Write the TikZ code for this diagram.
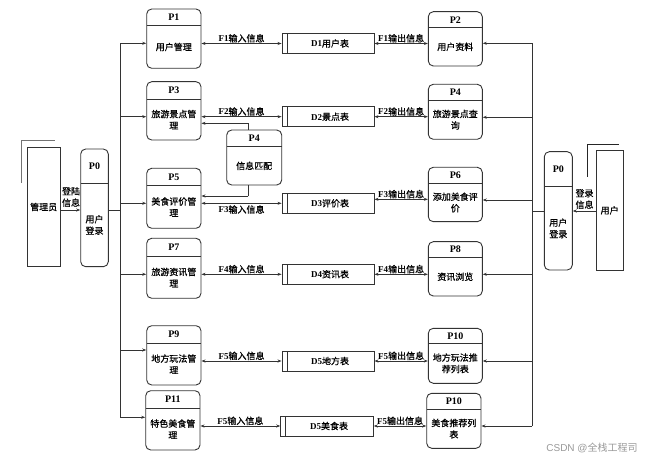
\documentclass[tikz,border=0pt]{standalone}
\usepackage{fontspec}
\setmainfont{Liberation Serif}
\newfontfamily\cjk[FakeBold=0.7]{Noto Sans CJK SC}
\newfontfamily\wmfont{Liberation Sans}
\newfontfamily\wmcjk{Noto Sans CJK SC}
\usetikzlibrary{arrows.meta,fit}
\newcommand\lt[1]{{\rmfamily\bfseries #1}}
\tikzset{
  x=1bp, y=-1bp,
  edge/.style={draw=black!80, line width=0.8bp},
  tipA/.tip={Stealth[length=4bp,width=3bp]},
  flow/.style={edge, -tipA},
  bi/.style={edge, tipA-tipA},
  procbox/.style={draw=black!80, line width=0.9bp, rounded corners=5bp, inner sep=0pt},
  storebox/.style={draw=black!80, line width=0.9bp, inner sep=0pt},
  entbox/.style={draw=black!80, line width=0.9bp, inner sep=0pt},
  txt/.style={font=\cjk\fontsize{9bp}{11.5bp}\selectfont, align=center, inner sep=0pt},
  hdr/.style={font=\rmfamily\bfseries\fontsize{10bp}{12bp}\selectfont, inner sep=0pt},
  lbl/.style={font=\cjk\fontsize{9bp}{10bp}\selectfont, inner sep=0.6bp},
}
% #1 name, #2 x1, #3 y1, #4 x2, #5 y2, #6 divider y, #7 header, #8 body
\newcommand\proc[8]{%
  \coordinate (#1-tl) at (#2,#3);
  \coordinate (#1-br) at (#4,#5);
  \node[procbox, fit=(#1-tl)(#1-br)] (#1) {};
  \draw[draw=black!80, line width=0.9bp] (#2,#6) -- (#4,#6);
  \node[hdr] (#1-h) at ({(#2+#4)/2},{(#3+#6)/2}) {#7};
  \node[txt] (#1-b) at ({(#2+#4)/2},{(#6+#5)/2}) {#8};
}
% #1 name, #2 x1, #3 y1, #4 x2, #5 y2, #6 text
\newcommand\store[6]{%
  \coordinate (#1-tl) at (#2,#3);
  \coordinate (#1-br) at (#4,#5);
  \node[storebox, fit=(#1-tl)(#1-br)] (#1) {};
  \draw[draw=black!80, line width=0.9bp] ({#2+5},#3) -- ({#2+5},#5);
  \node[txt] (#1-t) at ({(#2+#4)/2+2},{(#3+#5)/2}) {#6};
}
\begin{document}
\begin{tikzpicture}
\useasboundingbox (0,0) rectangle (647,461);
\fill[white] (0,0) rectangle (647,461);

% entities
\coordinate (adm-tl) at (27.3,147.3); \coordinate (adm-br) at (60,266.7);
\node[entbox, fit=(adm-tl)(adm-br)] (adm) {};
\node[txt] (adm-t) at (adm) {管理员};
\draw[draw=black!55, line width=1.3bp] (21.7,183) -- (21.7,140.7) -- (55,140.7);

\coordinate (usr-tl) at (596,150.7); \coordinate (usr-br) at (623.3,270);
\node[entbox, fit=(usr-tl)(usr-br)] (usr) {};
\node[txt] (usr-t) at (usr) {用户};
\draw[draw=black!85, line width=0.9bp] (587.3,176.7) -- (587.3,144.3) -- (619,144.3);

% login processes
\proc{p0l}{80.7}{149}{108.3}{266.7}{183.3}{P0}{用户\\登录}
\proc{p0r}{544.3}{151.7}{572.3}{270}{186.7}{P0}{用户\\登录}

% left processes
\proc{p1}{146.7}{9}{201}{68.3}{25.7}{P1}{用户管理}
\proc{p3}{146.7}{81.7}{201}{140}{99.3}{P3}{旅游景点管\\理}
\proc{p5}{146.7}{168.3}{201}{228.3}{185.7}{P5}{美食评价管\\理}
\proc{p7}{146.7}{238.3}{201}{298.3}{256.7}{P7}{旅游资讯管\\理}
\proc{p9}{146.7}{325.7}{201}{385}{343.3}{P9}{地方玩法管\\理}
\proc{p11}{145.7}{390.7}{200}{450}{408.3}{P11}{特色美食管\\理}

% right processes
\proc{p2}{428.3}{11.7}{482.3}{66}{27.7}{P2}{用户资料}
\proc{p4}{428.3}{84.3}{482.3}{139.3}{100}{P4}{旅游景点查\\询}
\proc{p6}{428.3}{167.3}{482.3}{221.7}{183.3}{P6}{添加美食评\\价}
\proc{p8}{428.3}{241.7}{482.3}{296}{257.7}{P8}{资讯浏览}
\proc{p10}{428.3}{328.3}{482.3}{383.3}{343.3}{P10}{地方玩法推\\荐列表}
\proc{p10b}{426.7}{393.3}{481}{448.3}{409}{P10}{美食推荐列\\表}

% matching process
\proc{pm}{226.7}{130}{281.7}{185}{146.7}{P4}{信息匹配}

% data stores
\store{d1}{282}{33.7}{374}{53.3}{\lt{D1}用户表}
\store{d2}{282}{106.7}{374}{126.7}{\lt{D2}景点表}
\store{d3}{282}{193.3}{374}{213.3}{\lt{D3}评价表}
\store{d4}{282}{264.3}{374}{284.3}{\lt{D4}资讯表}
\store{d5}{282}{351}{374}{371}{\lt{D5}地方表}
\store{d6}{280.7}{416}{373.3}{436}{\lt{D5}美食表}

% left trunk
\coordinate (L1) at (120,43.3);
\coordinate (L2) at (120,116.7);
\coordinate (L3) at (120,203.3);
\coordinate (L4) at (120,274.3);
\coordinate (L5) at (120,350);
\coordinate (L6) at (120,417.3);
\coordinate (Lm) at (120,210);
\draw[edge] (L1) -- (L6);
\draw[flow] (L1) -- (p1.west |- L1);
\draw[flow] (L2) -- (p3.west |- L2);
\draw[flow] (L3) -- (p5.west |- L3);
\draw[flow] (L4) -- (p7.west |- L4);
\draw[flow] (L5) -- (p9.west |- L5);
\draw[flow] (L6) -- (p11.west |- L6);
\draw[edge] (p0l.east |- Lm) -- (Lm);
\draw[flow] (adm.east |- Lm) -- (p0l.west |- Lm);
\node[txt] (admlbl) at (71,197) {登陆\\信息};

% right trunk
\coordinate (R1) at (532,43.3);
\coordinate (R2) at (532,117.3);
\coordinate (R3) at (532,200);
\coordinate (R4) at (532,274.3);
\coordinate (R5) at (532,361);
\coordinate (R6) at (532,426);
\coordinate (Rm) at (532,211);
\draw[edge] (R1) -- (R6);
\draw[flow] (R1) -- (p2.east |- R1);
\draw[flow] (R2) -- (p4.east |- R2);
\draw[flow] (R3) -- (p6.east |- R3);
\draw[flow] (R4) -- (p8.east |- R4);
\draw[flow] (R5) -- (p10.east |- R5);
\draw[flow] (R6) -- (p10b.east |- R6);
\draw[edge] (p0r.west |- Rm) -- (Rm);
\draw[flow] (usr.west |- Rm) -- (p0r.east |- Rm);
\node[txt] (usrlbl) at (584.5,199) {登录\\信息};

% data flows
\coordinate (Y3) at (0,199.3);
\draw[bi] (p1.east |- d1.west) -- (d1.west) node[midway, above, lbl] {\lt{F1}输入信息};
\draw[bi] (d1.east) -- (p2.west |- d1.east) node[midway, above, lbl] {\lt{F1}输出信息};
\draw[bi] (p3.east |- d2.west) -- (d2.west) node[midway, above, lbl] {\lt{F2}输入信息};
\draw[bi] (d2.east) -- (p4.west |- d2.east) node[midway, above, lbl] {\lt{F2}输出信息};
\draw[bi] (p5.east |- d3.west) -- (d3.west) node[midway, below, lbl, yshift=-1bp] {\lt{F3}输入信息};
\draw[bi] (d3.east |- Y3) -- (p6.west |- Y3) node[midway, above, lbl] {\lt{F3}输出信息};
\draw[bi] (p7.east |- d4.west) -- (d4.west) node[midway, above, lbl] {\lt{F4}输入信息};
\draw[bi] (d4.east) -- (p8.west |- d4.east) node[midway, above, lbl] {\lt{F4}输出信息};
\draw[bi] (p9.east |- d5.west) -- (d5.west) node[midway, above, lbl] {\lt{F5}输入信息};
\draw[bi] (d5.east) -- (p10.west |- d5.east) node[midway, above, lbl] {\lt{F5}输出信息};
\draw[bi] (p11.east |- d6.west) -- (d6.west) node[midway, above, lbl] {\lt{F5}输入信息};
\draw[bi] (d6.east) -- (p10b.west |- d6.east) node[midway, above, lbl] {\lt{F5}输出信息};

% matching process links
\coordinate (K3) at (248.3,123.3);
\coordinate (K5) at (248.3,196);
\draw[edge] (pm.north -| K3) -- (K3);
\draw[flow] (K3) -- (p3.east |- K3);
\draw[edge] (pm.south -| K5) -- (K5);
\draw[flow] (K5) -- (p5.east |- K5);

% watermark
\node[font=\wmfont\fontsize{10bp}{12bp}\selectfont, text=black!40, inner sep=0pt] (wm) at (592,447.5) {CSDN @{\wmcjk 全栈工程司}};
\end{tikzpicture}
\end{document}
